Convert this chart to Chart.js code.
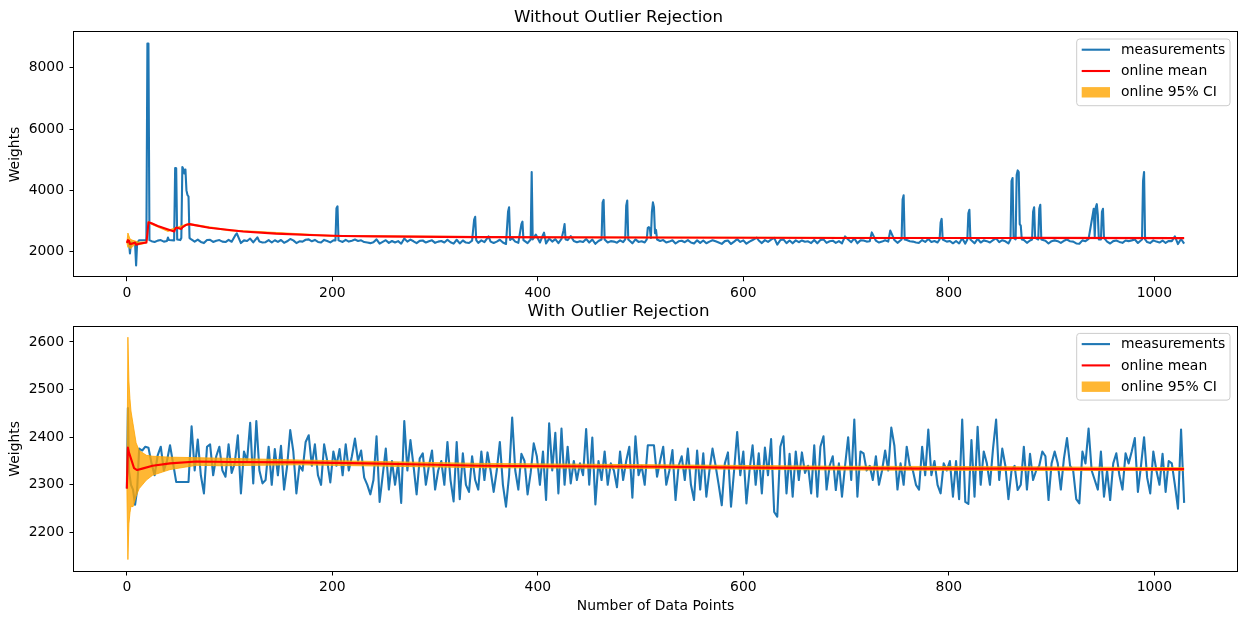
<!DOCTYPE html>
<html>
<head>
<meta charset="utf-8">
<title>Online mean with and without outlier rejection</title>
<script src="https://cdn.jsdelivr.net/npm/chart.js@4.4.1/dist/chart.umd.min.js"></script>
<style>
  body { margin: 0; background: #fff; }
  #wrap { position: relative; width: 1246px; height: 624px; }
  canvas { position: absolute; left: 0; }
</style>
</head>
<body>
<div id="wrap">
  <canvas id="chartTop" width="1246" height="312" style="top:0;width:1246px;height:312px"></canvas>
  <canvas id="chartBottom" width="1246" height="324" style="top:300px;width:1246px;height:324px"></canvas>
</div>
<script>
const FONT = "'DejaVu Sans', sans-serif";
const BLUE = "#1f77b4";
const RED = "#ff0000";
const ORANGE = "rgba(255, 165, 0, 0.8)";

const xTicks = [0, 200, 400, 600, 800, 1000];
const yTicksTop = [2000, 4000, 6000, 8000];
const yTicksBottom = [2200, 2300, 2400, 2500, 2600];
const legendLabels = ["measurements", "online mean", "online 95% CI"];

// sample positions: every point at the start, then every 3rd data point
const measIdx = [0, 1, 2, 4, 6, 8, 10];
for (let i = 12; i <= 1029; i += 3) measIdx.push(i);

// measurements after outlier rejection (lower panel)
const measValues = [
  2292, 2461, 2330, 2300, 2290, 2258, 2290,
  2376, 2372, 2380, 2378, 2345, 2320, 2362, 2380, 2330, 2350,
  2383, 2345, 2306, 2306, 2306, 2306, 2306, 2423, 2330, 2395,
  2320, 2282, 2380, 2385, 2320, 2360, 2380, 2330, 2317, 2385,
  2325, 2345, 2404, 2282, 2370, 2350, 2430, 2303, 2434, 2330,
  2303, 2310, 2380, 2300, 2375, 2320, 2382, 2290, 2340, 2415,
  2370, 2282, 2340,
  2330, 2390, 2404, 2340, 2385, 2320, 2300, 2385, 2350, 2305,
  2370, 2340, 2375, 2320, 2385, 2330, 2360, 2397, 2350, 2372,
  2315, 2300, 2280, 2310, 2402, 2264, 2320, 2376, 2290, 2350,
  2300, 2345, 2262, 2434, 2330, 2394, 2340, 2280, 2355, 2366,
  2300, 2340, 2372, 2290, 2330, 2350, 2300, 2390, 2310, 2265,
  2390, 2270, 2366, 2300, 2285, 2360, 2310, 2290,
  2370, 2310, 2368, 2330, 2285, 2330, 2390, 2300, 2254, 2320,
  2441, 2330, 2290, 2365, 2350, 2280, 2325, 2387, 2360, 2300,
  2370, 2268, 2429, 2330, 2409, 2282, 2418, 2300, 2380, 2303,
  2350, 2310, 2345, 2320, 2417, 2300, 2399, 2259, 2350, 2310,
  2370, 2300, 2345, 2330, 2295, 2370, 2310, 2350, 2380, 2273,
  2402, 2320, 2340, 2300, 2383, 2383, 2383, 2317, 2350,
  2380, 2300, 2330, 2373, 2268, 2340, 2360, 2310, 2376, 2300,
  2268, 2372, 2290, 2366, 2275, 2330, 2376, 2340, 2300, 2257,
  2345, 2368, 2254, 2330, 2411, 2320, 2370, 2261, 2330, 2383,
  2300, 2366, 2282, 2378, 2320, 2396, 2243, 2233, 2380, 2402,
  2282, 2365, 2275, 2370, 2310, 2368, 2325, 2340, 2282, 2383,
  2275, 2380, 2402, 2290, 2340, 2360, 2289, 2345,
  2275, 2340, 2400, 2310, 2437, 2275, 2370, 2366, 2330, 2340,
  2310, 2360, 2300, 2330, 2372, 2330, 2420, 2382, 2290, 2345,
  2300, 2380, 2340, 2330, 2300, 2290, 2380, 2320, 2416, 2320,
  2350, 2300, 2282, 2345, 2330, 2350, 2275, 2350, 2270, 2437,
  2264, 2260, 2394, 2275, 2422, 2300, 2370, 2345, 2300, 2376,
  2437, 2310, 2376, 2340, 2270, 2330, 2340, 2289,
  2300, 2380, 2290, 2365, 2310, 2330, 2340, 2370, 2360, 2268,
  2345, 2370, 2345, 2290, 2355, 2398, 2340, 2330, 2270, 2261,
  2370, 2345, 2418, 2330, 2310, 2290, 2370, 2275, 2330, 2268,
  2345, 2366, 2320, 2290, 2366, 2345, 2370, 2398, 2285, 2340,
  2400, 2315, 2282, 2370, 2330, 2300, 2365, 2285, 2350, 2345,
  2300, 2250, 2416, 2262,
];

// raw points that were rejected, only visible in the upper panel: [index, weight]
const outliers = [
  [2, 2330], [3, 1945], [4, 2300], [8, 2258], [9, 1550], [10, 2290],
  [19, 2380], [20, 8790], [21, 8790], [22, 2378],
  [39, 2350], [40, 2460], [41, 2380],
  [46, 2370], [47, 4730], [48, 4720], [49, 2400], [52, 2380], [53, 2450],
  [54, 4760], [55, 4700], [56, 4550], [57, 4680], [58, 4000], [59, 3850],
  [60, 3800], [61, 2450], [62, 2420],
  [106, 2560], [107, 2600], [127, 2470],
  [203, 2370], [204, 3420], [205, 3480], [206, 2370],
  [338, 3050], [339, 3140], [340, 2380], [352, 2500],
  [371, 3300], [372, 3450], [373, 2380],
  [384, 2900], [385, 2980], [386, 2380],
  [393, 2400], [394, 4600], [395, 2400], [398, 2560],
  [405, 2550], [406, 2620],
  [425, 2700], [426, 2900], [427, 2400], [432, 2510],
  [462, 2400], [463, 3600], [464, 3690], [465, 2400],
  [485, 2400], [486, 3500], [487, 3670], [488, 2400],
  [506, 2400], [507, 2780], [508, 2800], [509, 2750], [510, 2450],
  [511, 3300], [512, 3610], [513, 3450], [514, 2600], [515, 2710], [516, 2400],
  [613, 2460], [630, 2450], [699, 2500], [725, 2630], [743, 2690],
  [754, 2400], [755, 3700], [756, 3840], [757, 2400],
  [791, 2400], [792, 2950], [793, 3070], [794, 2400],
  [818, 2400], [819, 3250], [820, 3370], [821, 2400],
  [860, 2400], [861, 4300], [862, 4400], [863, 2450], [865, 2400],
  [866, 4500], [867, 4650], [868, 4600], [869, 2900], [870, 2850], [871, 2400],
  [881, 2400], [882, 3300], [883, 3450], [884, 2450],
  [887, 2400], [888, 3400], [889, 3530], [890, 2400],
  [940, 3200], [941, 3400], [942, 2500], [943, 3450], [944, 3550], [945, 3200],
  [946, 2400], [948, 2400], [949, 3300], [950, 3400], [951, 2450],
  [988, 2400], [989, 4300], [990, 4600], [991, 2400],
  [1020, 2500],
];

// online mean and CI, upper panel
const meanTopIdx = [0, 1, 2, 3, 5, 8, 9, 13, 19, 20, 21, 24, 30, 46, 47, 48, 53, 54, 58, 61, 80, 113, 145, 178, 210, 243, 307, 343, 500, 700, 860, 870, 1029];
const meanTopVal = [2292, 2376, 2361, 2257, 2262, 2300, 2230, 2270, 2300, 2600, 2960, 2930, 2840, 2660, 2740, 2790, 2740, 2790, 2880, 2900, 2780, 2660, 2590, 2545, 2515, 2500, 2485, 2475, 2462, 2450, 2447, 2452, 2445];
const ciTopIdx = [0, 1, 2, 3, 5, 8, 12, 19, 21, 40, 60, 100, 200, 400, 1029];
const ciTopUpper = [2292, 2610, 2520, 2420, 2380, 2350, 2310, 2320, 2985, 2700, 2920, 2710, 2530, 2482, 2455];
const ciTopLower = [2292, 2143, 2205, 2095, 2145, 2240, 2230, 2280, 2935, 2660, 2880, 2680, 2500, 2458, 2435];

// online mean and CI, lower panel
const meanBotIdx = [0, 1, 2, 4, 7, 10, 15, 25, 42, 68, 100, 170, 233, 300, 343, 420, 519, 600, 694, 780, 869, 950, 1029];
const meanBotVal = [2292, 2378, 2368, 2355, 2335, 2331, 2334, 2340, 2345, 2349, 2348, 2347, 2345, 2342, 2340, 2339, 2338, 2336, 2335, 2334, 2334, 2333, 2333];
const ciBotIdx = [0, 1, 2, 3, 4, 6, 9, 12, 19, 25, 42, 68, 90, 168, 343, 519, 694, 869, 1029];
const ciBotUpper = [2292, 2610, 2518, 2481, 2455, 2428, 2388, 2372, 2362, 2360, 2358, 2357, 2356, 2352, 2345, 2342, 2339, 2338, 2336];
const ciBotLower = [2292, 2143, 2218, 2241, 2255, 2254, 2276, 2292, 2310, 2320, 2332, 2341, 2340, 2342, 2336, 2334, 2331, 2330, 2330];

if (measIdx.length !== measValues.length) console.warn("length mismatch", measIdx.length, measValues.length);

const toPoints = (xs, ys) => xs.map((x, i) => ({ x, y: ys[i] }));

const filtered = toPoints(measIdx, measValues);
const raw = filtered
  .filter((p) => !outliers.some(([ox]) => Math.abs(ox - p.x) < 1.5))
  .concat(outliers.map(([x, y]) => ({ x, y })))
  .sort((a, b) => a.x - b.x);

function buildDatasets(meas, mean, upper, lower) {
  const line = { pointRadius: 0, tension: 0, borderJoinStyle: "round", fill: false };
  return [
    { ...line, label: "online mean", data: mean, borderColor: RED, borderWidth: 2.1 },
    { ...line, label: "online 95% CI", data: upper, borderColor: ORANGE, backgroundColor: ORANGE, borderWidth: 1, fill: "+1" },
    { ...line, label: "_ci_lower", data: lower, borderColor: ORANGE, borderWidth: 1 },
    { ...line, label: "measurements", data: meas, borderColor: BLUE, borderWidth: 2.1 },
  ];
}

// matplotlib-like frame and legend box
const frameLegend = {
  id: "frameLegend",
  afterDraw(chart) {
    const { ctx, chartArea: a } = chart;
    ctx.save();
    ctx.strokeStyle = "#000";
    ctx.lineWidth = 1;
    ctx.strokeRect(Math.round(a.left) - 0.5, Math.round(a.top) - 0.5, Math.round(a.right - a.left) + 1, Math.round(a.bottom - a.top) + 1);

    const w = 153.3, h = 66.7;
    const x0 = a.right - 7 - w, y0 = a.top + 6.7;
    ctx.beginPath();
    ctx.roundRect(x0, y0, w, h, 3);
    ctx.fillStyle = "rgba(255,255,255,0.8)";
    ctx.fill();
    ctx.strokeStyle = "#cccccc";
    ctx.stroke();

    ctx.font = "13.9px " + FONT;
    ctx.textBaseline = "middle";
    legendLabels.forEach((lab, i) => {
      const ds = chart.data.datasets.find((d) => d.label === lab);
      const cy = y0 + 10.7 + i * 21.3;
      if (ds.fill) {
        ctx.fillStyle = ds.backgroundColor;
        ctx.fillRect(x0 + 5, cy - 5.2, 28.3, 10.4);
      } else {
        ctx.strokeStyle = ds.borderColor;
        ctx.lineWidth = ds.borderWidth;
        ctx.beginPath();
        ctx.moveTo(x0 + 5, cy);
        ctx.lineTo(x0 + 33.3, cy);
        ctx.stroke();
      }
      ctx.fillStyle = "#000";
      ctx.fillText(lab, x0 + 44.3, cy + 0.5);
    });
    ctx.restore();
  },
};

function makeChart(id, cfg) {
  const tickFont = { family: FONT, size: 13.9 };
  return new Chart(document.getElementById(id), {
    type: "line",
    data: { datasets: cfg.datasets },
    plugins: [frameLegend],
    options: {
      responsive: false,
      animation: false,
      devicePixelRatio: 1,
      layout: { padding: { left: 0, right: 9, top: 0, bottom: 0 } },
      plugins: {
        legend: { display: false },
        tooltip: { enabled: false },
        title: {
          display: true,
          text: cfg.title,
          color: "#000",
          font: { family: FONT, size: 16.67, weight: "normal" },
          padding: cfg.titlePad,
        },
      },
      scales: {
        x: {
          type: "linear",
          min: -51.45,
          max: 1080.45,
          afterBuildTicks: (s) => { s.ticks = xTicks.map((v) => ({ value: v })); },
          afterFit: (s) => { s.height = cfg.xHeight; },
          ticks: { color: "#000", font: tickFont, padding: 4, maxRotation: 0, autoSkip: false, callback: (v) => String(v) },
          grid: { drawOnChartArea: false, color: "#000", tickLength: 4.5 },
          border: { display: false },
          title: {
            display: !!cfg.xTitle,
            text: cfg.xTitle || "",
            color: "#000",
            font: tickFont,
            padding: { top: 0, bottom: 9.7 },
          },
        },
        y: {
          min: cfg.yMin,
          max: cfg.yMax,
          afterBuildTicks: (s) => { s.ticks = cfg.yTicks.map((v) => ({ value: v })); },
          afterFit: (s) => { s.width = 74; },
          ticks: { color: "#000", font: tickFont, padding: 5.5, callback: (v) => String(v) },
          grid: { drawOnChartArea: false, color: "#000", tickLength: 4.5 },
          border: { display: false },
          title: {
            display: true,
            text: "Weights",
            color: "#000",
            font: tickFont,
            padding: { top: 7, bottom: 0 },
          },
        },
      },
    },
  });
}

makeChart("chartTop", {
  title: "Without Outlier Rejection",
  titlePad: { top: 8, bottom: 4.3 },
  xHeight: 35.3,
  yMin: 1186,
  yMax: 9153,
  yTicks: yTicksTop,
  datasets: buildDatasets(raw, toPoints(meanTopIdx, meanTopVal), toPoints(ciTopIdx, ciTopUpper), toPoints(ciTopIdx, ciTopLower)),
});

makeChart("chartBottom", {
  title: "With Outlier Rejection",
  titlePad: { top: 2, bottom: 4.7 },
  xHeight: 53,
  xTitle: "Number of Data Points",
  yMin: 2119,
  yMax: 2632,
  yTicks: yTicksBottom,
  datasets: buildDatasets(filtered, toPoints(meanBotIdx, meanBotVal), toPoints(ciBotIdx, ciBotUpper), toPoints(ciBotIdx, ciBotLower)),
});
</script>
</body>
</html>
